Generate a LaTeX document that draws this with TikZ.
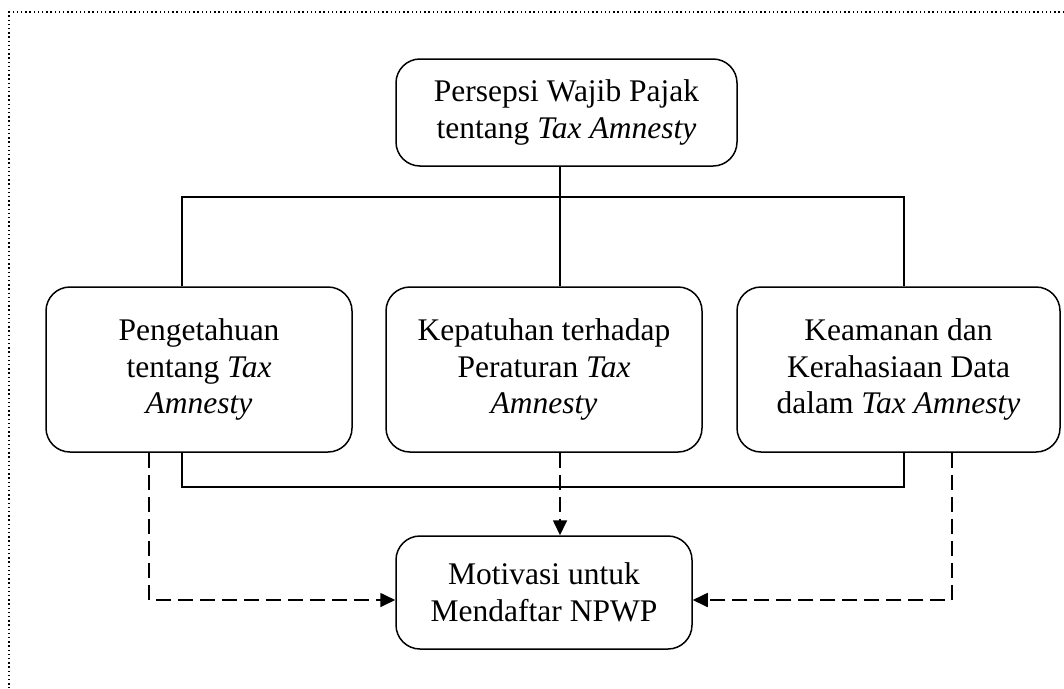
\documentclass[tikz,border=0pt]{standalone}
\usepackage{fontspec}
\setmainfont{Liberation Serif}
\usetikzlibrary{arrows.meta}
\begin{document}
\begin{tikzpicture}[x=1pt,y=-1pt,
  box/.style={draw, line width=1.5pt, rounded corners=24pt, align=center,
    font=\fontsize{31.5}{36.5}\selectfont, inner sep=0pt},
  link/.style={line width=1.4pt},
  dlink/.style={line width=1.7pt, dash pattern=on 15pt off 7pt,
    -{Triangle[length=15pt,width=14pt]}},
  frame/.style={line width=1.4pt, dash pattern=on 1.4pt off 2.8pt}]
\useasboundingbox (0,0) rectangle (1064,688);
\coordinate (c0) at (1064,12);
\coordinate (c1) at (9,12);
\coordinate (c2) at (9,688);
\draw[frame] (c0) -- (c1) -- (c2);

\node[box, minimum width=341pt, minimum height=107pt] (top) at (566.5,112.5)
  {Persepsi Wajib Pajak\\tentang \textit{Tax Amnesty}};
\node[box, minimum width=306pt, minimum height=165pt] (left) at (199,369.5)
  {Pengetahuan\\tentang \textit{Tax}\\\textit{Amnesty}};
\node[box, minimum width=316pt, minimum height=165pt] (mid) at (544,369.5)
  {Kepatuhan terhadap\\Peraturan \textit{Tax}\\\textit{Amnesty}};
\node[box, minimum width=323pt, minimum height=165pt] (right) at (898.5,369.5)
  {Keamanan dan\\Kerahasiaan Data\\dalam \textit{Tax Amnesty}};
\node[box, minimum width=296pt, minimum height=113pt] (bot) at (544,592.5)
  {Motivasi untuk\\Mendaftar NPWP};

\coordinate (cx) at (560,0);
\coordinate (xl) at (182,0);
\coordinate (xr) at (904,0);
\coordinate (dl) at (149,0);
\coordinate (dr) at (952,0);
\coordinate (jt) at (0,197);
\coordinate (jb) at (0,487);
\coordinate (ya) at (0,600);

\draw[link] (cx |- top.south) -- (cx |- mid.north);
\draw[link] (xl |- left.north) -- (xl |- jt) -- (xr |- jt) -- (xr |- right.north);
\draw[link] (xl |- left.south) -- (xl |- jb) -- (xr |- jb) -- (xr |- right.south);

\draw[dlink] (cx |- mid.south) -- (cx |- bot.north);
\draw[dlink] (dl |- left.south) -- (dl |- ya) -- (bot.west |- ya);
\draw[dlink] (dr |- right.south) -- (dr |- ya) -- (bot.east |- ya);
\end{tikzpicture}
\end{document}
